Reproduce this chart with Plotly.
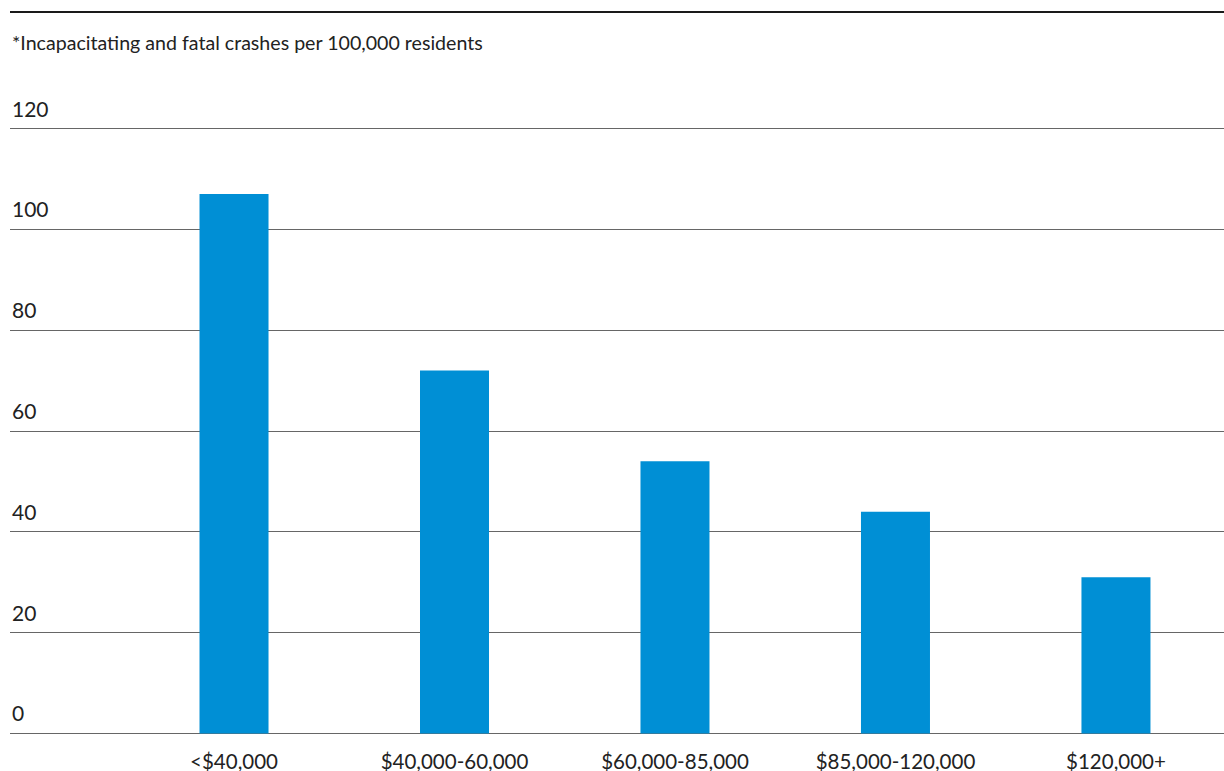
import plotly.graph_objects as go

# Household income brackets and crash rates
income_brackets = ["<$40,000", "$40,000-60,000", "$60,000-85,000", "$85,000-120,000", "$120,000+"]
crash_rates = [107, 72, 54, 44, 31]
y_ticks = [0, 20, 40, 60, 80, 100, 120]

FONT = "Lato"
BAR_COLOR = "#008fd5"
GRID_COLOR = "#666666"
TEXT_COLOR = "#222222"

# plot area: 0 sits at y=734 px, 120 at y=129 px; range padded so edge gridlines draw
PAD = 0.5
TOP_M, BOT_M = 126, 35
plot_h = 771 - TOP_M - BOT_M


def paper_y(px):
    """Convert a pixel row of the page into paper coordinates."""
    return (771 - BOT_M - px) / plot_h


fig = go.Figure()
fig.add_trace(go.Bar(
    x=list(range(len(income_brackets))),
    y=crash_rates,
    marker=dict(color=BAR_COLOR, line=dict(width=0)),
    width=0.313,
    hoverinfo="x+y",
))

# value labels sit just above each gridline, flush with the left edge
tick_annotations = [
    dict(text=str(v), xref="paper", yref="y", x=0, y=v,
         xanchor="left", yanchor="bottom", yshift=6, showarrow=False,
         font=dict(size=21, family=FONT, color=TEXT_COLOR))
    for v in y_ticks
]

fig.update_layout(
    width=1224, height=771,
    margin=dict(l=10, r=0, t=TOP_M, b=BOT_M, autoexpand=False),
    paper_bgcolor="white", plot_bgcolor="white",
    showlegend=False,
    font=dict(family=FONT, color=TEXT_COLOR),
    xaxis=dict(
        range=[-1.016, 4.49],
        tickmode="array",
        tickvals=list(range(len(income_brackets))),
        ticktext=income_brackets,
        showgrid=False, zeroline=False, showline=False,
        ticks="", tickfont=dict(size=20.5, family=FONT, color=TEXT_COLOR),
        ticklabelstandoff=11, automargin=False,
    ),
    yaxis=dict(
        range=[-PAD, 120 + PAD],
        tickmode="array",
        tickvals=y_ticks,
        showticklabels=False,
        showgrid=True, gridcolor=GRID_COLOR, gridwidth=1,
        zeroline=False, showline=False,
        ticks="", automargin=False,
        layer="below traces",
    ),
    shapes=[
        dict(type="line", xref="paper", yref="paper",
             x0=0, x1=1.01, y0=paper_y(12), y1=paper_y(12),
             line=dict(color="#1a1a1a", width=2)),
    ],
    annotations=tick_annotations + [
        dict(text="*Incapacitating and fatal crashes per 100,000 residents",
             xref="paper", yref="paper", x=0, y=paper_y(43),
             xanchor="left", yanchor="middle", showarrow=False,
             font=dict(size=19.6, family=FONT, color=TEXT_COLOR)),
    ],
)

fig.write_html("out.html")
